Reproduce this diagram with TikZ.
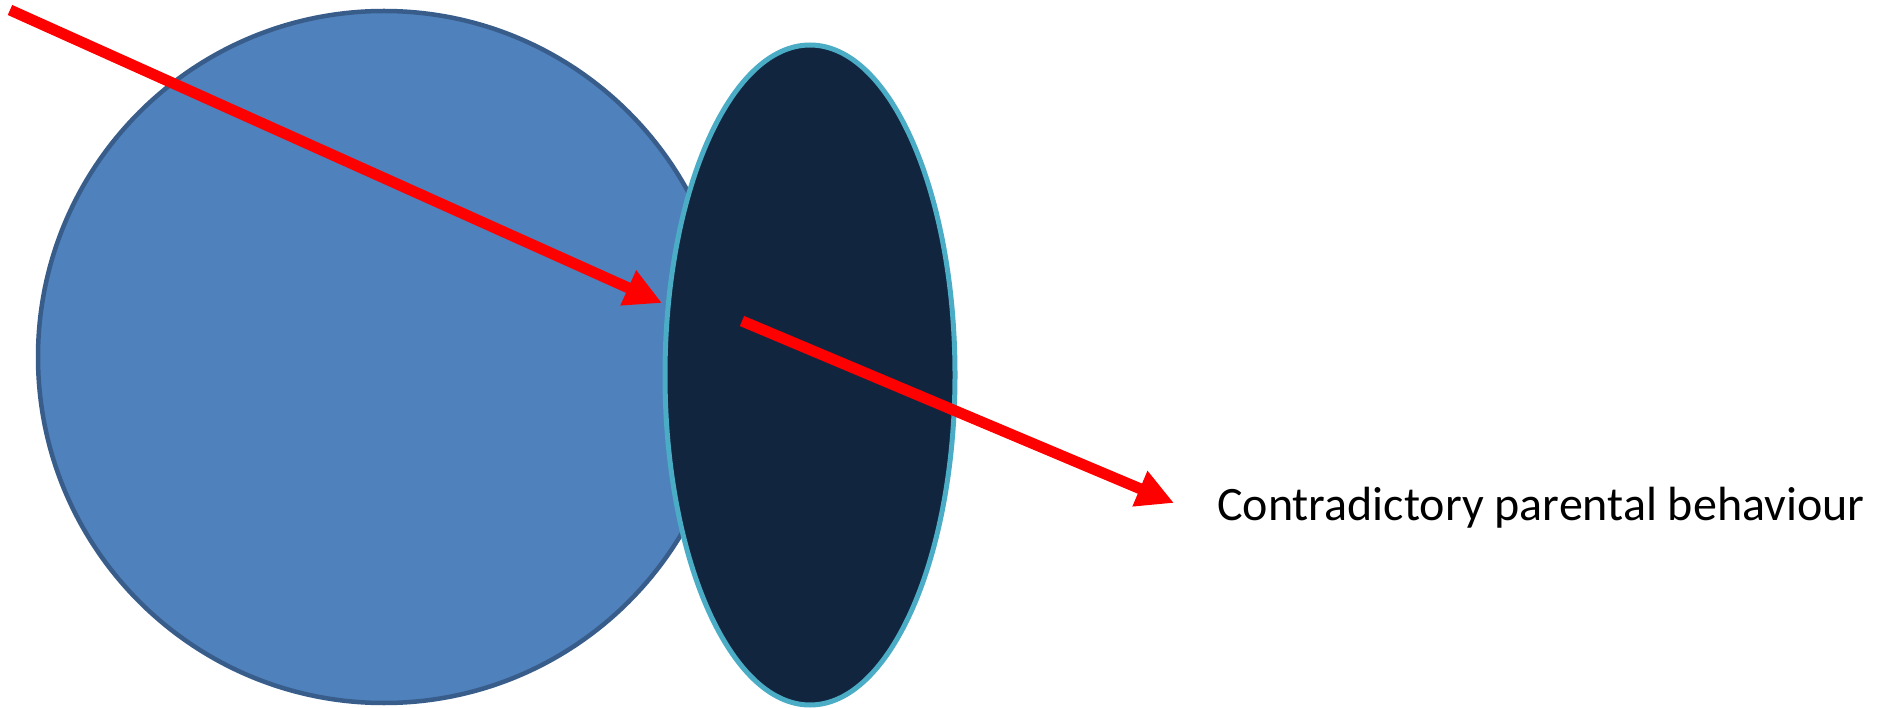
\documentclass[tikz,border=0pt]{standalone}
\usepackage{fontspec}
\setmainfont{Carlito}
\usetikzlibrary{arrows.meta}
\definecolor{circfill}{HTML}{4F81BD}
\definecolor{circline}{HTML}{385D8A}
\definecolor{ellfill}{HTML}{12253F}
\definecolor{ellline}{HTML}{4BACC6}
\definecolor{arrred}{HTML}{FF0000}
\tikzset{
  redarrow/.style={draw=arrred, line width=11pt, -{Triangle[length=37pt,width=36pt]}},
  lbl/.style={font=\fontsize{48pt}{58pt}\selectfont, inner sep=0pt, anchor=base west}
}
\begin{document}
\begin{tikzpicture}[x=1pt,y=-1pt]
\useasboundingbox (0,0) rectangle (1893,708);
\fill[white] (0,0) rectangle (1893,708);
\draw[fill=circfill, draw=circline, line width=4.5pt] (384,357) circle [radius=346];
\draw[fill=ellfill, draw=ellline, line width=5pt] (810,375) ellipse [x radius=145, y radius=330];
\coordinate (a1s) at (10,10);
\coordinate (a1e) at (662,303);
\coordinate (a2s) at (742,321);
\coordinate (a2e) at (1174,503);
\draw[redarrow] (a1s) -- (a1e);
\draw[redarrow] (a2s) -- (a2e);
\node[lbl] (label) at (1217,520) {Contradictory parental behaviour};
\end{tikzpicture}
\end{document}
